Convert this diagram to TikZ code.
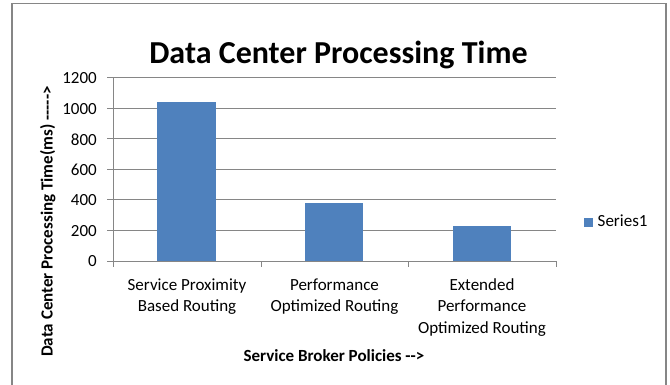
\documentclass[tikz,border=0pt]{standalone}
\usepackage{fontspec}
\setmainfont{Carlito}
\usepackage{tikz}
\definecolor{barblue}{HTML}{4F81BD}
\definecolor{chartgray}{HTML}{868686}
\tikzstyle{bar} = [fill=barblue]
\tikzstyle{gridline} = [draw=chartgray, line width=1pt]
\tikzstyle{ticktext} = [inner sep=0, font=\fontsize{17}{21.3}\selectfont]
\tikzstyle{axistitle} = [inner sep=0, font=\fontsize{17}{21}\selectfont\bfseries]

\begin{document}
\begin{tikzpicture}[x=1pt,y=-1pt]
        \useasboundingbox (0,0) rectangle (670,385);
        \clip (0,0) rectangle (670,385);
        \draw[chartgray, line width=1.5pt] (12,3.5) rectangle (666,400);
        \node[inner sep=0, font=\fontsize{32}{36}\selectfont\bfseries, anchor=base] (title) at (338.5,63.4) {Data Center Processing Time};

        % grid and value axis
        \draw[gridline] (107,78) -- (556,78);
        \draw[gridline] (107,108.5) -- (556,108.5);
        \draw[gridline] (107,139) -- (556,139);
        \draw[gridline] (107,169.5) -- (556,169.5);
        \draw[gridline] (107,200) -- (556,200);
        \draw[gridline] (107,230.5) -- (556,230.5);
        \node[ticktext, anchor=east] (v1200) at (97,78.5) {1200};
        \node[ticktext, anchor=east] (v1000) at (97,109) {1000};
        \node[ticktext, anchor=east] (v800) at (97,139.5) {800};
        \node[ticktext, anchor=east] (v600) at (97,170) {600};
        \node[ticktext, anchor=east] (v400) at (97,200.5) {400};
        \node[ticktext, anchor=east] (v200) at (97,231) {200};
        \node[ticktext, anchor=east] (v0) at (97,261.5) {0};

        % bars
        \fill[bar] (157,261) rectangle (216,101.6);
        \fill[bar] (305,261) rectangle (363,203);
        \fill[bar] (453,261) rectangle (511,226.4);

        % category axis
        \draw[gridline] (113,78) -- (113,261);
        \draw[gridline] (107,261) -- (556,261);
        \draw[gridline] (113,261) -- (113,267);
        \draw[gridline] (261,261) -- (261,267);
        \draw[gridline] (408.5,261) -- (408.5,267);
        \draw[gridline] (556,261) -- (556,267);
        \node[ticktext, anchor=north, align=center] (c1) at (187,278.5) {Service Proximity\\Based Routing};
        \node[ticktext, anchor=north, align=center] (c2) at (334.5,278.5) {Performance\\Optimized Routing};
        \node[ticktext, anchor=north, align=center] (c3) at (482,278.5) {Extended\\Performance\\Optimized Routing};

        \node[axistitle, anchor=base] (xtitle) at (334,361.7) {Service Broker Policies -{}->};
        \node[axistitle, anchor=base, rotate=90] (ytitle) at (52.5,221.5) {Data Center Processing Time(ms) -{}-{}-{}-{}->};

        % legend
        \fill[bar] (584,218) rectangle (593,227);
        \node[ticktext, anchor=base west] (series) at (597.5,226.7) {Series1};
      \end{tikzpicture}
\end{document}
